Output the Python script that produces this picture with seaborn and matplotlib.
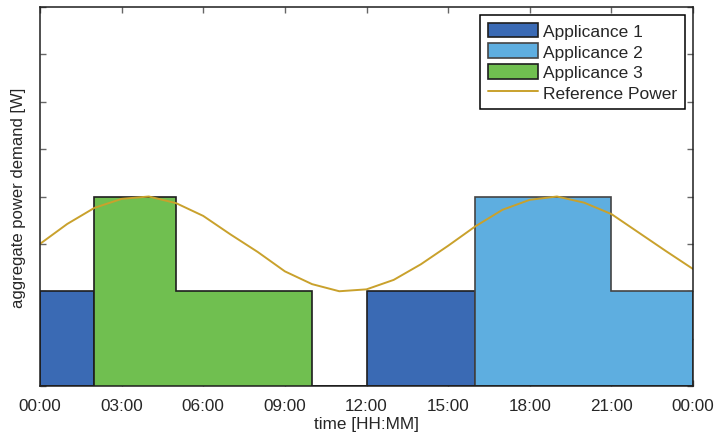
import numpy as np
import seaborn as sns
import matplotlib
import matplotlib.pyplot as plt

matplotlib.use("Agg")

# hourly demand of each appliance, one value per hour 00..23
hour_edges = list(range(25))
appliance_1 = [2, 2, 0, 0, 0, 0, 0, 0, 0, 0, 0, 0, 2, 2, 2, 2, 0, 0, 0, 0, 0, 0, 0, 0]
appliance_2 = [0, 0, 0, 0, 0, 0, 0, 0, 0, 0, 0, 0, 0, 0, 0, 0, 4, 4, 4, 4, 4, 2, 2, 2]
appliance_3 = [0, 0, 4, 4, 4, 2, 2, 2, 2, 2, 0, 0, 0, 0, 0, 0, 0, 0, 0, 0, 0, 0, 0, 0]

# reference power, sampled every hour 00..24
ref_hours = list(range(25))
ref_power = [3.00, 3.42, 3.76, 3.95, 4.00, 3.86, 3.59, 3.20, 2.83, 2.42, 2.15, 2.00, 2.04,
             2.24, 2.57, 2.96, 3.37, 3.72, 3.93, 4.00, 3.87, 3.63, 3.24, 2.85, 2.47]

xtick_pos = [0, 3, 6, 9, 12, 15, 18, 21, 24]
xtick_labels = ["00:00", "03:00", "06:00", "09:00", "12:00", "15:00", "18:00", "21:00", "00:00"]

sns.set_style("white")
plt.rcParams["font.family"] = ["Liberation Sans", "DejaVu Sans"]
plt.rcParams["font.size"] = 12
plt.rcParams["text.color"] = "#262626"
plt.rcParams["axes.labelcolor"] = "#262626"
plt.rcParams["xtick.color"] = "#666666"
plt.rcParams["ytick.color"] = "#666666"
plt.rcParams["xtick.labelcolor"] = "#262626"

fig = plt.figure(figsize=(7.15, 4.35), dpi=100)
ax = fig.add_axes([40 / 715, 48 / 435, 653 / 715, 379 / 435])

ax.stairs(appliance_1, hour_edges, fill=True, baseline=0, facecolor="#3a6ab4",
          edgecolor="#1e1e1e", linewidth=1.2, label="Applicance 1")
ax.stairs(appliance_2, hour_edges, fill=True, baseline=0, facecolor="#5eaee0",
          edgecolor="#444444", linewidth=1.2, label="Applicance 2")
ax.stairs(appliance_3, hour_edges, fill=True, baseline=0, facecolor="#70bf50",
          edgecolor="#1e1e1e", linewidth=1.2, label="Applicance 3")

sns.lineplot(x=ref_hours, y=ref_power, color="#c9a12c", linewidth=1.4,
             label="Reference Power", ax=ax)

ax.set_xlim(0, 24)
ax.set_ylim(0, 8)
ax.set_xticks(xtick_pos)
ax.set_xticklabels(xtick_labels)
ax.set_yticks(np.arange(0, 9, 1))
ax.set_yticklabels([])
ax.tick_params(direction="in", length=4.5, width=1, top=True, right=True,
               bottom=True, left=True, labelsize=12.3, pad=9)
ax.set_axisbelow(True)
for s in ax.spines.values():
    s.set_color("#1e1e1e")
    s.set_linewidth(1.1)

ax.set_xlabel("time [HH:MM]", fontsize=12.3, labelpad=1.5)
ax.set_ylabel("aggregate power demand [W]", fontsize=12, labelpad=1)

leg = ax.legend(loc="upper right", fontsize=12.5, frameon=True, fancybox=False,
                edgecolor="black", framealpha=1, handlelength=2.9, handleheight=0.92,
                labelspacing=0.25, borderpad=0.45, borderaxespad=0.46,
                handletextpad=0.3)
leg.get_frame().set_linewidth(1.1)

plt.savefig("out.png", dpi=100)
